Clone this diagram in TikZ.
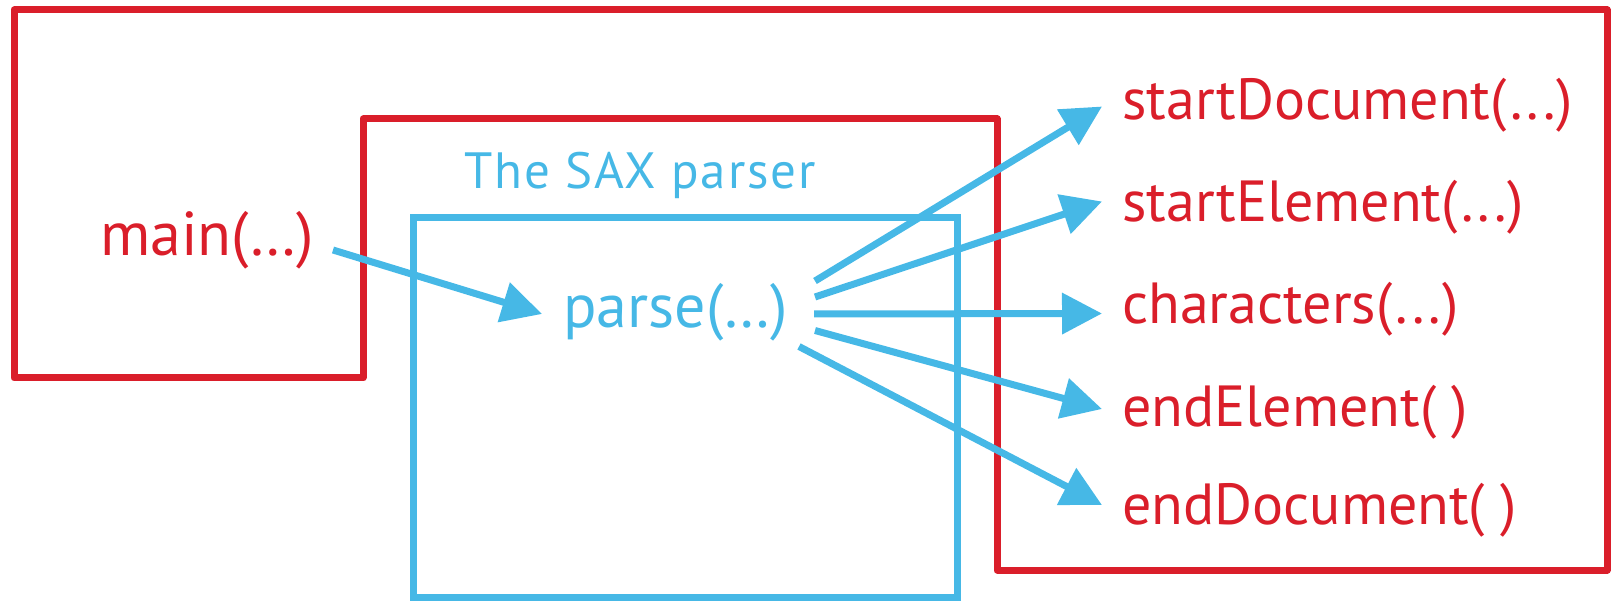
\documentclass[tikz,border=0pt]{standalone}
\usepackage{fontspec}
\setmainfont{PT Sans}
\usetikzlibrary{arrows.meta}
\definecolor{saxred}{RGB}{218,30,42}
\definecolor{saxblue}{RGB}{70,184,230}
\newcommand{\dotsx}{\kern0.06em.\kern0.07em.\kern0.07em.\kern0.02em}
\tikzset{
  redline/.style={draw=saxred,line width=7pt,line join=round},
  blueline/.style={draw=saxblue,line width=7pt,line join=miter},
  callarrow/.style={draw=saxblue,line width=7pt,-{Triangle[length=40pt,width=40pt]}},
  redlabel/.style={inner sep=0pt,anchor=base west,text=saxred,font=\fontsize{58}{66}\selectfont},
  bluelabel/.style={inner sep=0pt,anchor=base west,text=saxblue,font=\fontsize{51}{60}\selectfont\addfontfeature{LetterSpace=3.6}},
  biglabel/.style={inner sep=0pt,anchor=base west,font=\fontsize{62}{72}\selectfont},
}
\begin{document}
\begin{tikzpicture}[x=1pt,y=-1pt]
\useasboundingbox (0,0) rectangle (1614,601);
% red application outline
\draw[redline] (14,10) -- (1607,10) -- (1607,570) -- (997,570) -- (997,119) -- (363,119) -- (363,378) -- (14,378) -- cycle;
% blue parser box
\draw[blueline] (413,218) rectangle (957.5,597.5);
% texts
\node[biglabel,text=saxred] (main) at (100,256) {main(…)};
\node[bluelabel] (sax) at (464,189) {The SAX parser};
\node[biglabel,text=saxblue] (parse) at (563,328) {parse(…)};
\node[redlabel] (sd) at (1122,119.5) {startDocument(\dotsx)};
\node[redlabel] (se) at (1122,221.5) {startElement(\dotsx)};
\node[redlabel] (ch) at (1122,324) {characters(\dotsx)};
\node[redlabel] (ee) at (1122,426) {endElement( )};
\node[redlabel] (ed) at (1122,524) {endDocument( )};
% arrow start points
\coordinate (m1) at (333,250);
\coordinate (mt) at (542,314);
\coordinate (p1) at (815,281);
\coordinate (p2) at (815,297);
\coordinate (p3) at (814,314);
\coordinate (p4) at (815,330.5);
\coordinate (p5) at (799,346.5);
\coordinate (t1) at (1102,106.5);
\coordinate (t2) at (1102,201.5);
\coordinate (t3) at (1102,313.5);
\coordinate (t4) at (1102,409);
\coordinate (t5) at (1102,505);
% arrows
\draw[callarrow] (m1) -- (mt);
\draw[callarrow] (p1) -- (t1);
\draw[callarrow] (p2) -- (t2);
\draw[callarrow] (p3) -- (t3);
\draw[callarrow] (p4) -- (t4);
\draw[callarrow] (p5) -- (t5);
\end{tikzpicture}
\end{document}
